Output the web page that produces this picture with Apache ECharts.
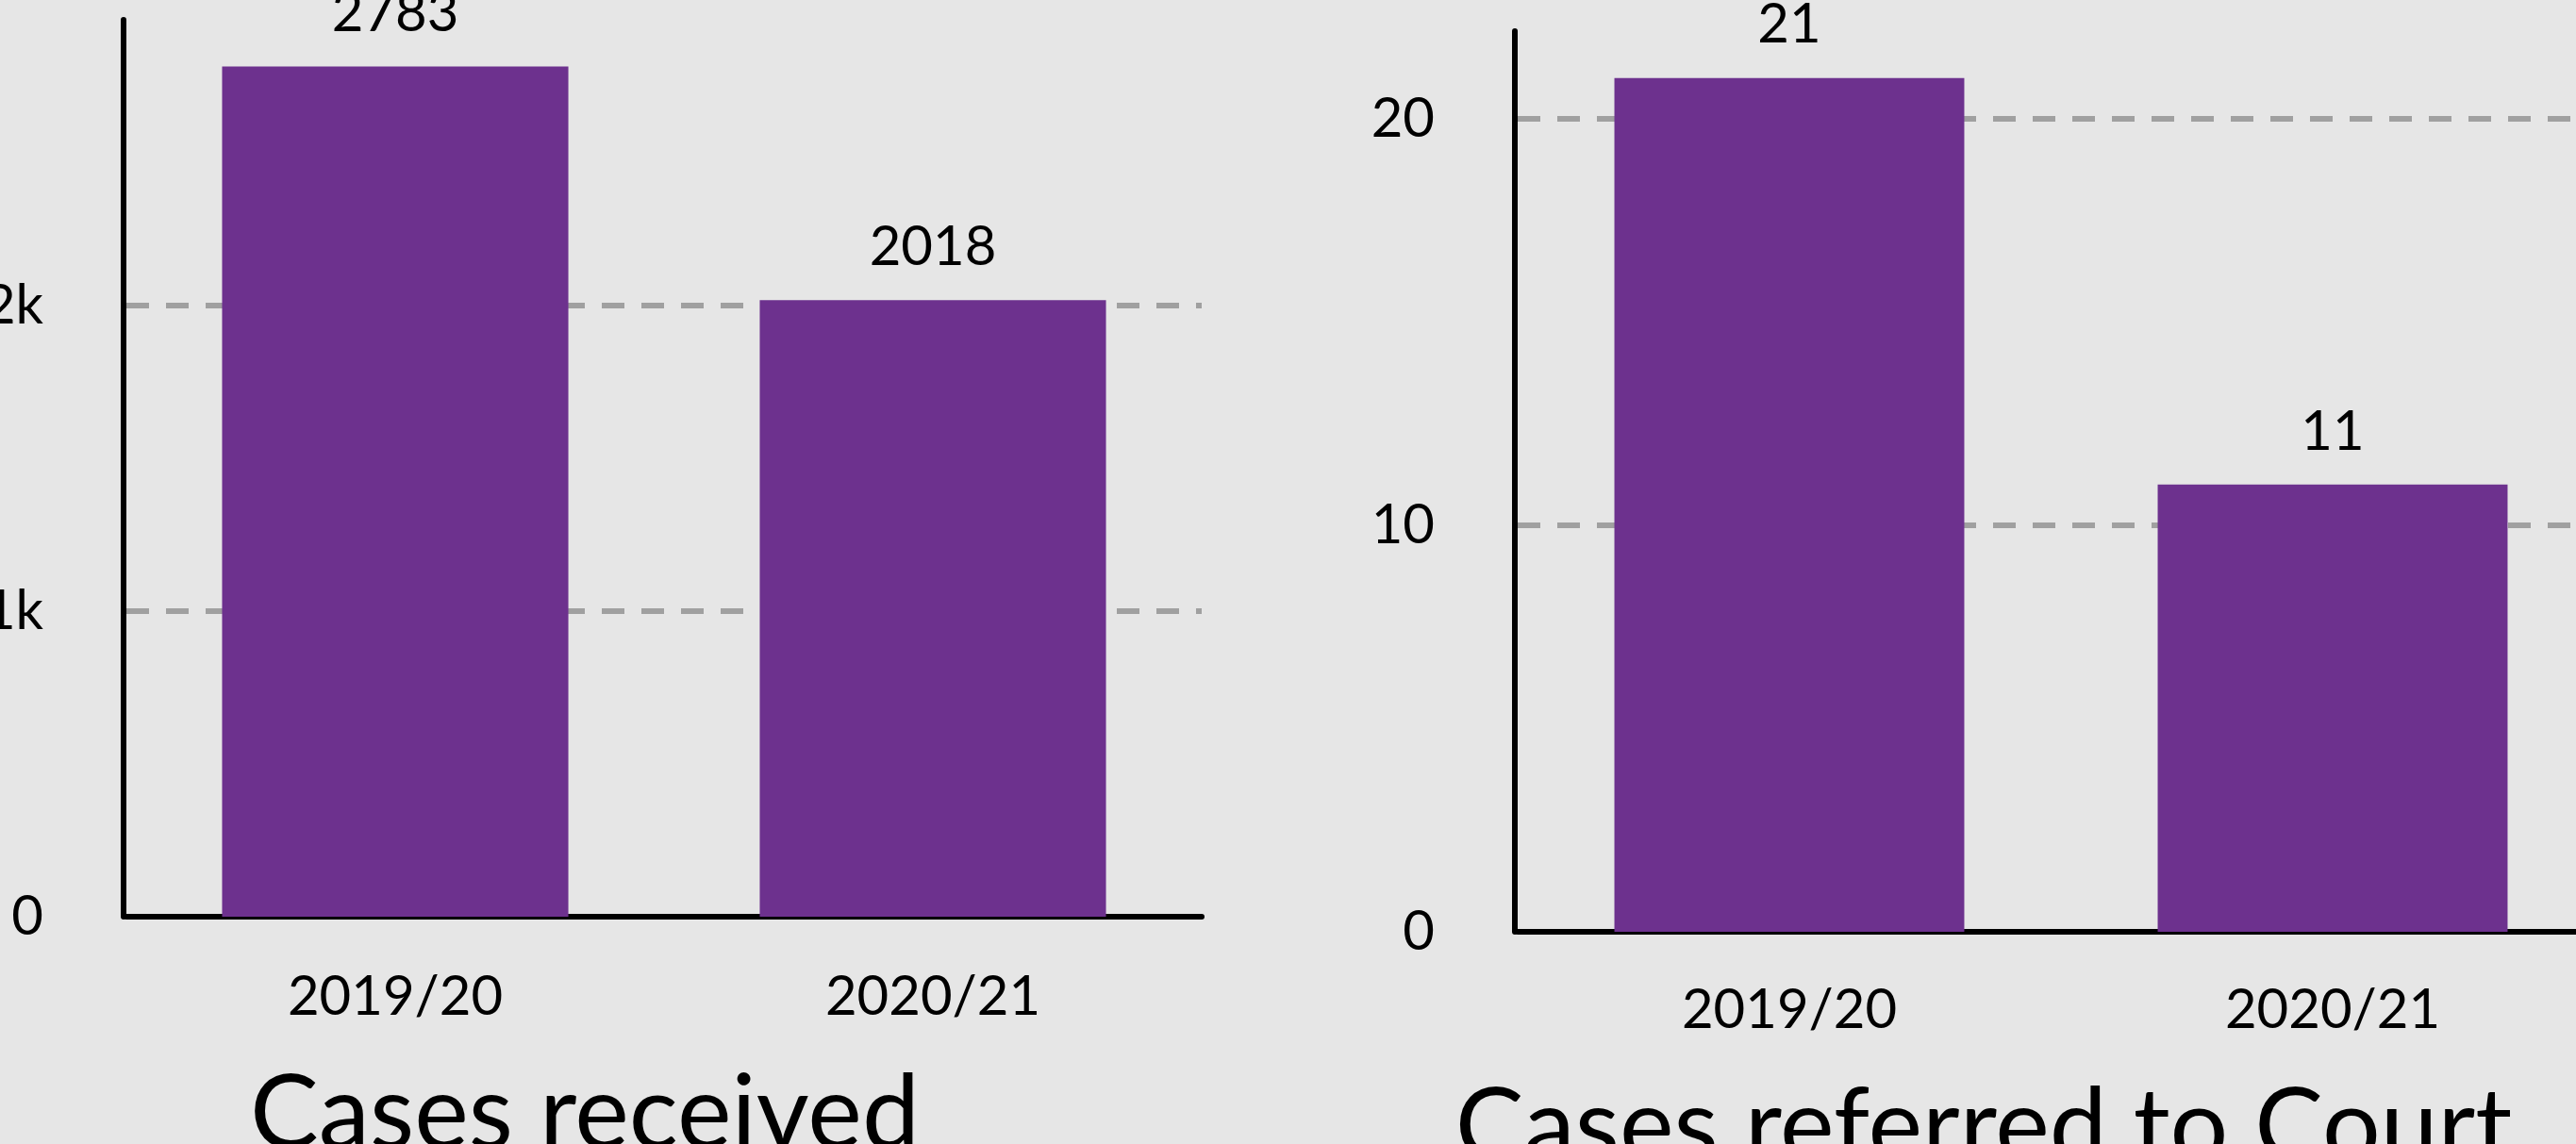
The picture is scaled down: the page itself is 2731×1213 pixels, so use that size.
<!DOCTYPE html>
<html>
<head>
<meta charset="utf-8">
<script src="https://cdn.jsdelivr.net/npm/echarts@6/dist/echarts.min.js"></script>
<style>
html,body{margin:0;padding:0;background:#e6e6e6;}
#c{width:2731px;height:1213px;}
</style>
</head>
<body>
<div id="c"></div>
<script>
const categories = ['2019/20', '2020/21'];
const casesReceived = [2783, 2018];
const casesReferred = [21, 11];
const titles = ['Cases received', 'Cases referred to Court'];

const FONT = 'Lato';
const PURPLE = '#6d318e';

function kFormat(v) {
  if (v === 0) return '0';
  if (v >= 1000) return (v / 1000) + 'k';
  return String(v);
}

function yAxis(idx, max, interval, fmt) {
  return {
    type: 'value', gridIndex: idx, min: 0, max: max, interval: interval, offset: 3,
    axisLine: { show: true, lineStyle: { color: '#000', width: 6 } },
    axisTick: { show: false },
    axisLabel: { margin: 85, fontFamily: FONT, fontSize: 58, color: '#000', showMaxLabel: false, formatter: fmt },
    splitLine: { show: true, showMaxLine: false, lineStyle: { color: '#a0a0a0', width: 6, type: [24, 18] } }
  };
}

function xAxis(idx, margin) {
  return {
    type: 'category', gridIndex: idx, data: categories,
    axisLine: { show: true, lineStyle: { color: '#000', width: 6 } },
    axisTick: { show: false },
    axisLabel: { margin: margin, fontFamily: FONT, fontSize: 58, lineHeight: 58, color: '#000' }
  };
}

function barSeries(idx, data) {
  return {
    type: 'bar', xAxisIndex: idx, yAxisIndex: idx, data: data,
    barWidth: '64.4%',
    itemStyle: { color: PURPLE },
    label: { show: true, position: 'top', distance: 27, fontFamily: FONT, fontSize: 58, lineHeight: 58, color: '#000' },
    silent: true
  };
}

const chart = echarts.init(document.getElementById('c'));
chart.setOption({
  backgroundColor: '#e6e6e6',
  animation: false,
  grid: [
    { left: 134, top: 21, width: 1140, height: 951, containLabel: false, outerBoundsMode: 'none' },
    { left: 1609, top: 33, width: 1152, height: 955, containLabel: false, outerBoundsMode: 'none' }
  ],
  xAxis: [xAxis(0, 56), xAxis(1, 54)],
  yAxis: [
    yAxis(0, Math.max(...casesReceived) * 1.055, 1000, kFormat),
    yAxis(1, Math.max(...casesReferred) * 1.055, 10, v => String(v))
  ],
  series: [barSeries(0, casesReceived), barSeries(1, casesReferred)],
  graphic: [
    { type: 'text', x: 620, y: 1182, style: { text: titles[0], fontFamily: FONT, fontSize: 109, fill: '#000', align: 'center', verticalAlign: 'middle' } },
    { type: 'text', x: 2103, y: 1196, style: { text: titles[1], fontFamily: FONT, fontSize: 109, fill: '#000', align: 'center', verticalAlign: 'middle' } }
  ]
});
</script>
</body>
</html>
